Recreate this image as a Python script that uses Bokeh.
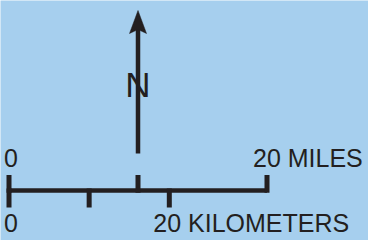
from bokeh.plotting import figure
from bokeh.models import Range1d
from bokeh.core.properties import value
from bokeh.embed import file_html
from bokeh.resources import INLINE

# ---- data ----
mile_ticks = [0, 10, 20]
km_ticks = [0, 10, 20]
mile_label_at = [0, 20]
mile_labels = ["0", "20 MILES"]
km_label_at = [0, 20]
km_labels = ["0", "20 KILOMETERS"]
KM_TO_MILES = 0.621371
north_label = ["N"]
north_at_mile = [10]

# ---- layout / style ----
BG = "#A6CFEE"
INK = "#231F20"
W, H = 368, 240
PX_PER_MILE = 12.9
LEFT_PAD = 8.5
FONT = value("Liberation Sans")
FS = "25px"

p = figure(width=W, height=H, output_backend="svg", toolbar_location=None,
           x_range=Range1d(-LEFT_PAD / PX_PER_MILE, (W - LEFT_PAD) / PX_PER_MILE),
           y_range=Range1d(240, 0),
           x_axis_location=None, y_axis_location=None, min_border=0)
p.grid.visible = False
p.outline_line_color = None
p.background_fill_color = BG
p.border_fill_color = BG

BAR_Y = 190
km_pos = [k * KM_TO_MILES for k in km_ticks]

# horizontal bar
p.segment(x0=[mile_ticks[0]], x1=[mile_ticks[-1]], y0=[BAR_Y], y1=[BAR_Y],
          line_width=4.5, line_color=INK, line_cap="butt")
# mile ticks (up)
p.segment(x0=mile_ticks, x1=mile_ticks, y0=[174.5] * len(mile_ticks), y1=[192.2] * len(mile_ticks),
          line_width=5, line_color=INK, line_cap="butt")
# km ticks (down)
p.segment(x0=km_pos, x1=km_pos, y0=[188] * len(km_pos), y1=[207] * len(km_pos),
          line_width=5, line_color=INK, line_cap="butt")

# north arrow
nx = north_at_mile[0]
p.segment(x0=[nx], x1=[nx], y0=[153], y1=[27], line_width=4.5, line_color=INK, line_cap="butt")
hw = 8.5 / PX_PER_MILE
p.patch(x=[nx, nx + hw, nx, nx - hw], y=[10, 33, 29, 33], fill_color=INK, line_color=INK, line_width=0.5)
p.text(x=north_at_mile, y=[98], text=north_label, text_font=FONT, y_offset=-14,
       text_font_size="35px", text_align="center", text_baseline="alphabetic", text_color=INK)

# labels
p.text(x=[mile_label_at[0]], y=[166.5], text=[mile_labels[0]], text_font=FONT, text_font_size=FS,
       text_align="left", text_baseline="alphabetic", x_offset=-5, y_offset=-9.2, text_color=INK)
p.text(x=[mile_label_at[1]], y=[166.5], text=[mile_labels[1]], text_font=FONT, text_font_size=FS,
       text_align="left", text_baseline="alphabetic", x_offset=-14, y_offset=-9.2, text_color=INK)
p.text(x=[km_label_at[0] * KM_TO_MILES], y=[231.5], text=[km_labels[0]], text_font=FONT, text_font_size=FS,
       text_align="left", text_baseline="alphabetic", x_offset=-5, y_offset=-9.2, text_color=INK)
p.text(x=[km_label_at[1] * KM_TO_MILES], y=[231.5], text=[km_labels[1]], text_font=FONT, text_font_size=FS,
       text_align="left", text_baseline="alphabetic", x_offset=-16, y_offset=-9.2, text_color=INK)

open("out.html", "w").write(file_html(p, INLINE))
